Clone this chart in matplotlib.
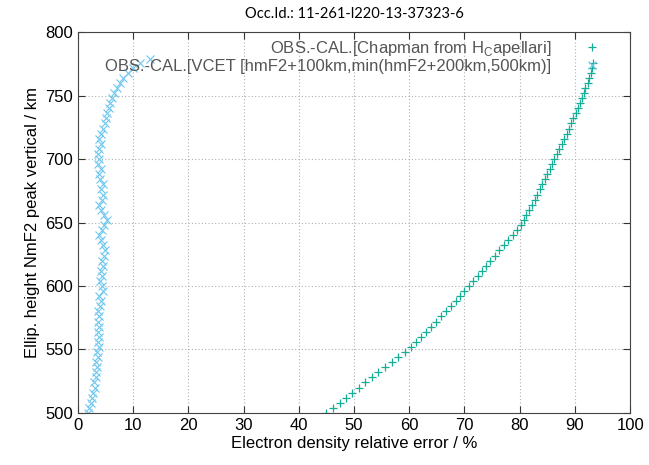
import matplotlib
matplotlib.use("Agg")
import matplotlib.pyplot as plt

plt.rcParams.update(
    {
        "font.family": ["Liberation Sans", "DejaVu Sans"],
        "font.size": 12,
        "mathtext.fontset": "custom",
        "mathtext.rm": "Liberation Sans",
    }
)

# heights (km) and relative errors (%)
heights_chap = [500, 504, 508, 512, 516, 520, 524, 528, 532, 536, 540, 544, 548, 552,
                556, 560, 564, 568, 572, 576, 580, 584, 588, 592, 596, 600, 604, 608,
                612, 616, 620, 624, 628, 632, 636, 640, 644, 648, 652, 656, 660, 664,
                668, 672, 676, 680, 684, 688, 692, 696, 700, 704, 708, 712, 716, 720,
                724, 728, 732, 736, 740, 744, 748, 752, 756, 760, 764, 768, 772, 776]
err_chap = [45.0, 46.2, 47.4, 48.6, 49.7, 50.9, 52.0, 53.2, 54.4, 55.6, 56.8, 58.0, 59.2,
            60.3, 61.2, 62.1, 63.0, 63.9, 64.8, 65.7, 66.6, 67.5, 68.4, 69.2, 70.0, 70.8,
            71.6, 72.4, 73.1, 73.9, 74.7, 75.5, 76.3, 77.1, 77.9, 78.7, 79.5, 80.2, 80.7,
            81.2, 81.7, 82.2, 82.7, 83.1, 83.6, 84.0, 84.5, 84.9, 85.4, 85.8, 86.2, 86.7,
            87.1, 87.6, 88.0, 88.5, 88.9, 89.3, 89.7, 90.1, 90.5, 90.9, 91.3, 91.6, 91.9,
            92.3, 92.6, 92.9, 93.1, 93.3]

heights_vcet = [500, 504, 508, 512, 516, 520, 524, 528, 532, 536, 540, 544, 548, 552,
                556, 560, 564, 568, 572, 576, 580, 584, 588, 592, 596, 600, 604, 608,
                612, 616, 620, 624, 628, 632, 636, 640, 644, 648, 652, 656, 660, 664,
                668, 672, 676, 680, 684, 688, 692, 696, 700, 704, 708, 712, 716, 720,
                724, 728, 732, 736, 740, 744, 748, 752, 756, 760, 764, 768, 772, 776, 779]
err_vcet = [1.9, 2.0, 2.3, 2.5, 2.8, 3.1, 2.9, 3.3, 3.2, 3.5, 3.3, 3.6, 3.5, 3.8, 3.6,
            3.9, 3.6, 3.8, 3.7, 3.9, 3.6, 4.0, 4.2, 3.9, 4.5, 4.3, 4.0, 4.4, 4.2, 4.6,
            4.3, 4.8, 4.9, 4.5, 4.1, 3.8, 4.4, 4.8, 5.2, 4.7, 4.2, 3.9, 4.3, 4.6, 4.2,
            4.5, 4.0, 3.8, 4.1, 3.6, 3.9, 3.6, 3.9, 4.2, 3.8, 4.1, 4.5, 4.9, 5.1, 5.3,
            5.6, 5.8, 6.2, 6.6, 7.0, 7.6, 8.2, 9.0, 10.0, 11.2, 13.0]

label_chap = r"OBS.-CAL.[Chapman from H$_{\mathrm{C}}$apellari]"
label_vcet = "OBS.-CAL.[VCET [hmF2+100km,min(hmF2+200km,500km)]"

fig = plt.figure(figsize=(6.49, 4.65), dpi=100)
ax = fig.add_axes([0.120, 0.112, 0.851, 0.819])

ax.plot(err_chap, heights_chap, linestyle="none", marker="+", ms=6, mew=0.9,
        color="#14ad96", label=label_chap)
ax.plot(err_vcet, heights_vcet, linestyle="none", marker="x", ms=6, mew=0.8,
        color="#6cc6ee", label=label_vcet)

ax.set_xlim(0, 100)
ax.set_ylim(500, 800)
ax.set_xticks(range(0, 101, 10))
ax.set_yticks(range(500, 801, 50))
ax.grid(True, linestyle=(0, (1, 2)), color="#b0b0b0", linewidth=0.8)
ax.tick_params(direction="in", top=True, right=True, length=5, color="#333333")
for s in ax.spines.values():
    s.set_color("#444444")

ax.set_xlabel("Electron density relative error / %", labelpad=2)
ax.set_ylabel("Ellip. height NmF2 peak vertical / km", labelpad=4)
ax.set_title("Occ.Id.: 11-261-l220-13-37323-6", family=["Lato", "DejaVu Sans"],
             fontsize=10.5, pad=10)

ax.legend(loc="upper right", bbox_to_anchor=(0.964, 1.005), frameon=False,
          markerfirst=False, handlelength=1.2, handletextpad=1.85, labelspacing=0.1,
          borderaxespad=0.3, borderpad=0.2, fontsize=12, labelcolor="#555555")

fig.savefig("out.png", dpi=100)
